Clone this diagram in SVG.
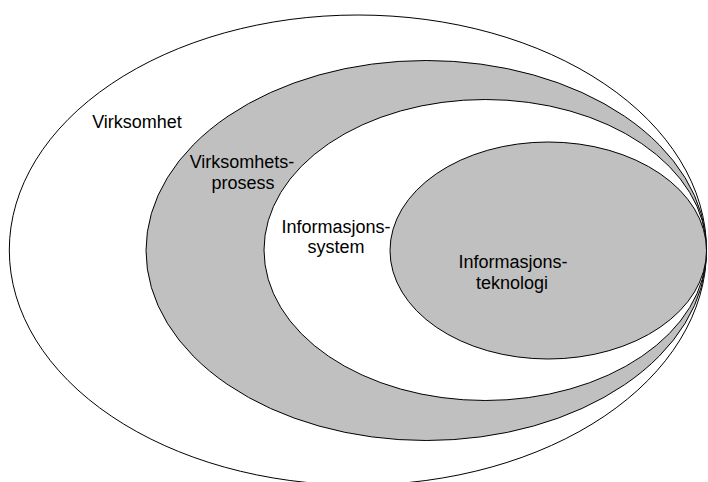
<svg xmlns="http://www.w3.org/2000/svg" width="708" height="482" viewBox="0 0 708 482">
<style>
.e{stroke:#000;stroke-width:1}
.w{fill:#fff}
.g{fill:#c0c0c0}
text{font-family:"Liberation Sans",Arial,sans-serif;font-size:18px;fill:#000;text-anchor:middle}
</style>
<rect width="708" height="482" fill="#fff"/>
<g id="virksomhet">
<ellipse class="e w" cx="357.9" cy="250" rx="348.6" ry="235"/>
<text x="137" y="128">Virksomhet</text>
</g>
<g id="virksomhetsprosess">
<ellipse class="e g" cx="426.25" cy="250.5" rx="280.25" ry="190"/>
<text x="242" y="168">Virksomhets-</text>
<text x="243" y="189">prosess</text>
</g>
<g id="informasjonssystem">
<ellipse class="e w" cx="485.25" cy="250" rx="221.25" ry="150.5"/>
<text x="336" y="233">Informasjons-</text>
<text x="336" y="253">system</text>
</g>
<g id="informasjonsteknologi">
<ellipse class="e g" cx="548.25" cy="250.5" rx="158.25" ry="108.5"/>
<text x="513" y="268">Informasjons-</text>
<text x="512" y="289">teknologi</text>
</g>
<g id="connectors"/>
</svg>
